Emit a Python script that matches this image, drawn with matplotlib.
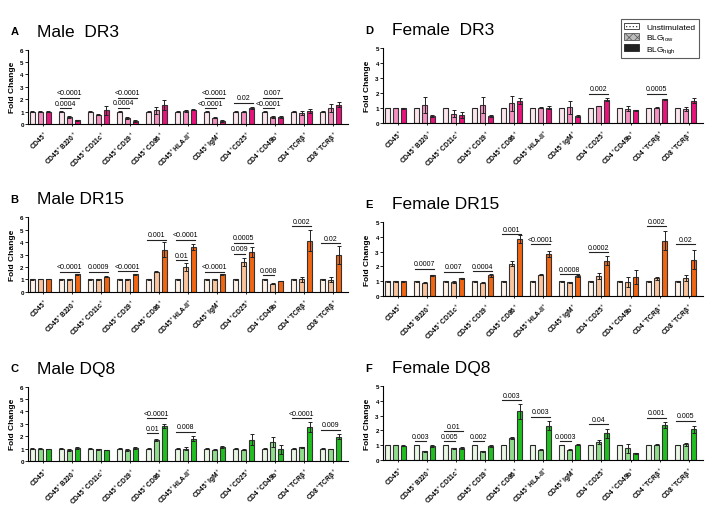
import numpy as np
import matplotlib
matplotlib.use('Agg')
import matplotlib.pyplot as plt
from matplotlib.patches import Patch

plt.rcParams['font.family'] = ['Liberation Sans', 'DejaVu Sans']
plt.rcParams['hatch.linewidth'] = 0.5
plt.rcParams['mathtext.fontset'] = 'custom'
plt.rcParams['mathtext.rm'] = 'Liberation Sans'
plt.rcParams['mathtext.it'] = 'Liberation Sans'
plt.rcParams['mathtext.bf'] = 'Liberation Sans:bold'

CATEGORIES = ['CD45$^+$', 'CD45$^+$B220$^+$', 'CD45$^+$CD11c$^+$', 'CD45$^+$CD19$^+$',
              'CD45$^+$CD86$^+$', 'CD45$^+$HLA-II$^+$', 'CD45$^+$IgM$^+$', 'CD4$^+$CD25$^+$',
              'CD4$^+$CD49b$^+$', 'CD4$^+$TCR\u03b2$^+$', 'CD8$^+$TCR\u03b2$^+$']

UNSTIM = [1.0] * 11

# Male DR3
A_low = [1.0, 0.55, 0.75, 0.5, 1.1, 1.05, 0.5, 1.0, 0.6, 0.9, 1.3]
A_low_err = [0.03, 0.08, 0.05, 0.1, 0.3, 0.1, 0.05, 0.05, 0.08, 0.15, 0.3]
A_high = [1.0, 0.3, 1.1, 0.25, 1.55, 1.15, 0.25, 1.25, 0.55, 1.05, 1.55]
A_high_err = [0.03, 0.05, 0.35, 0.05, 0.4, 0.05, 0.05, 0.08, 0.1, 0.18, 0.2]
A_sig = [(1, 1, 1.26, '0.0004'), (1, 2, 2.12, '<0.0001'), (3, 1, 1.3, '0.0004'),
         (3, 2, 2.12, '<0.0001'), (6, 1, 1.26, '<0.0001'), (6, 2, 2.12, '<0.0001'),
         (7, 2, 1.7, '0.02'), (8, 1, 1.26, '<0.0001'), (8, 2, 2.12, '0.007')]

# Female DR3
D_low = [1.0, 1.2, 0.62, 1.2, 1.3, 1.02, 1.05, 1.13, 0.95, 1.03, 0.92]
D_low_err = [0.02, 0.55, 0.25, 0.55, 0.5, 0.05, 0.45, 0.03, 0.15, 0.05, 0.12]
D_high = [0.97, 0.48, 0.52, 0.48, 1.45, 1.02, 0.45, 1.55, 0.85, 1.58, 1.5]
D_high_err = [0.02, 0.08, 0.2, 0.08, 0.2, 0.08, 0.05, 0.1, 0.03, 0.05, 0.2]
D_sig = [(7, 2, 1.95, '0.002'), (9, 2, 1.95, '0.0005')]

# Male DR15
B_low = [1.02, 1.0, 1.0, 1.0, 1.62, 2.0, 1.0, 2.4, 0.65, 1.0, 0.97]
B_low_err = [0.02, 0.03, 0.03, 0.03, 0.05, 0.3, 0.03, 0.3, 0.05, 0.2, 0.2]
B_high = [1.02, 1.42, 1.22, 1.42, 3.4, 3.6, 1.42, 3.2, 0.87, 4.1, 2.95]
B_high_err = [0.02, 0.05, 0.03, 0.05, 0.6, 0.25, 0.05, 0.4, 0.03, 0.85, 0.7]
B_sig = [(1, 2, 1.63, '<0.0001'), (2, 2, 1.63, '0.0009'), (3, 2, 1.65, '<0.0001'),
         (4, 2, 4.2, '0.001'), (5, 1, 2.56, '0.01'), (5, 2, 4.2, '<0.0001'),
         (6, 2, 1.63, '<0.0001'), (7, 1, 3.07, '0.009'), (7, 2, 3.95, '0.0005'),
         (8, 1, 1.33, '0.008'), (9, 2, 5.28, '0.002'), (10, 2, 3.9, '0.02')]

# Female DR15
E_low = [1.0, 0.9, 0.95, 0.9, 2.2, 1.45, 0.92, 1.37, 0.97, 1.2, 1.2]
E_low_err = [0.02, 0.05, 0.05, 0.05, 0.15, 0.05, 0.05, 0.2, 0.35, 0.12, 0.2]
E_high = [1.0, 1.4, 1.2, 1.4, 3.87, 2.85, 1.35, 2.4, 1.28, 3.75, 2.47]
E_high_err = [0.02, 0.05, 0.03, 0.08, 0.25, 0.2, 0.05, 0.3, 0.5, 0.65, 0.65]
E_sig = [(1, 2, 1.85, '0.0007'), (2, 2, 1.64, '0.007'), (3, 2, 1.69, '0.0004'),
         (4, 2, 4.19, '0.001'), (5, 2, 3.49, '<0.0001'), (6, 2, 1.49, '0.0008'),
         (7, 2, 2.95, '0.0002'), (9, 2, 4.73, '0.002'), (10, 2, 3.49, '0.02')]

# Male DQ8
C_low = [1.0, 0.88, 0.95, 0.9, 1.7, 1.0, 0.92, 0.92, 1.5, 1.1, 0.97]
C_low_err = [0.02, 0.05, 0.03, 0.08, 0.1, 0.15, 0.05, 0.05, 0.4, 0.05, 0.03]
C_high = [0.97, 1.05, 0.9, 1.05, 2.82, 1.78, 1.15, 1.72, 0.95, 2.75, 1.95]
C_high_err = [0.02, 0.05, 0.02, 0.08, 0.2, 0.2, 0.08, 0.45, 0.35, 0.4, 0.2]
C_sig = [(4, 1, 2.23, '0.01'), (4, 2, 3.44, '<0.0001'), (5, 2, 2.34, '0.008'),
         (9, 2, 3.44, '<0.0001'), (10, 2, 2.5, '0.009')]

# Female DQ8
F_low = [1.0, 0.6, 0.8, 0.6, 1.5, 0.7, 0.7, 1.2, 0.8, 1.03, 1.05]
F_low_err = [0.02, 0.03, 0.03, 0.03, 0.05, 0.02, 0.02, 0.15, 0.3, 0.05, 0.1]
F_high = [0.97, 0.95, 0.82, 0.95, 3.3, 2.33, 1.02, 1.8, 0.45, 2.35, 2.07]
F_high_err = [0.02, 0.05, 0.05, 0.05, 0.5, 0.3, 0.03, 0.3, 0.03, 0.2, 0.25]
F_sig = [(1, 1, 1.26, '0.003'), (2, 1, 1.26, '0.005'), (2, 2, 1.95, '0.01'),
         (3, 1, 1.26, '0.002'), (4, 2, 4.06, '0.003'), (5, 2, 2.94, '0.003'),
         (6, 1, 1.26, '0.0003'), (7, 2, 2.42, '0.04'), (9, 2, 2.87, '0.001'),
         (10, 2, 2.65, '0.005')]

PINK = ['#fce6ee', '#f590c0', '#e8137c']
ORANGE = ['#fff2e8', '#fbc49c', '#f26511']
GREEN = ['#eaf7e4', '#90dc8a', '#1fbf1f']

fig = plt.figure(figsize=(7.08, 5.06), dpi=100)

panels = [
    ('A', 'Male  DR3', A_low, A_low_err, A_high, A_high_err, A_sig, PINK, 6, [0.0395, 0.753, 0.452, 0.147]),
    ('B', 'Male DR15', B_low, B_low_err, B_high, B_high_err, B_sig, ORANGE, 6, [0.0395, 0.421, 0.452, 0.148]),
    ('C', 'Male DQ8', C_low, C_low_err, C_high, C_high_err, C_sig, GREEN, 6, [0.0395, 0.087, 0.452, 0.147]),
    ('D', 'Female  DR3', D_low, D_low_err, D_high, D_high_err, D_sig, PINK, 5, [0.541, 0.755, 0.452, 0.148]),
    ('E', 'Female DR15', E_low, E_low_err, E_high, E_high_err, E_sig, ORANGE, 5, [0.541, 0.413, 0.452, 0.146]),
    ('F', 'Female DQ8', F_low, F_low_err, F_high, F_high_err, F_sig, GREEN, 5, [0.541, 0.089, 0.452, 0.146]),
]

x = np.arange(len(CATEGORIES))
off = 0.275
w = 0.18

for letter, title, low, low_err, high, high_err, sig, cols, ymax, pos in panels:
    ax = fig.add_axes(pos)
    vals = [UNSTIM, low, high]
    errs = [[0.02] * 11, low_err, high_err]
    for k in range(3):
        ax.bar(x + (k - 1) * off, vals[k], w, yerr=errs[k], color=cols[k],
               edgecolor='#333333', linewidth=0.8,
               error_kw=dict(elinewidth=0.7, capsize=1.5, capthick=0.7, ecolor='#222222'))
    for g, t, yb, txt in sig:
        x0 = g - off - 0.05
        x1 = g + (t - 1) * off + 0.05
        ax.plot([x0, x1], [yb, yb], color='#222222', lw=0.8)
        ax.text((x0 + x1) / 2, yb + 0.12 * ymax / 6, txt, ha='center', va='bottom', fontsize=5)
    ax.set_xlim(-0.43, 10.6)
    ax.set_ylim(0, ymax)
    ax.set_yticks(range(ymax + 1))
    ax.set_xticks(x + 0.1)
    ax.set_xticklabels(CATEGORIES, rotation=45, ha='right', rotation_mode='anchor',
                       fontsize=4.8, fontweight='bold')
    ax.tick_params(axis='y', labelsize=4.5, length=2, width=0.6, pad=1)
    ax.tick_params(axis='x', length=1.2, width=0.6, pad=2)
    for lab in ax.get_yticklabels():
        lab.set_fontweight('bold')
    ax.spines['top'].set_visible(False)
    ax.spines['right'].set_visible(False)
    ax.spines['left'].set_linewidth(0.8)
    ax.spines['bottom'].set_linewidth(0.8)
    ax.set_ylabel('Fold Change', fontsize=6, fontweight='bold', labelpad=3)
    top = pos[1] + pos[3]
    fig.text(pos[0] - 0.025, top + 0.036, letter, fontsize=8, fontweight='bold', va='center')
    fig.text(pos[0] + 0.013, top + 0.036, title, fontsize=12.5, va='center')

handles = [Patch(facecolor='white', edgecolor='#333333', hatch='.....', linewidth=0.6),
           Patch(facecolor='#bbbbbb', edgecolor='#555555', hatch='xxxx', linewidth=0.6),
           Patch(facecolor='#222222', edgecolor='#222222', linewidth=0.6)]
leg = fig.legend(handles, ['Unstimulated', 'BLG$_{low}$', 'BLG$_{high}$'],
                 loc='upper right', bbox_to_anchor=(0.993, 0.968), fontsize=6,
                 frameon=True, fancybox=False, edgecolor='#333333',
                 handlelength=1.8, handleheight=0.8, borderpad=0.45, labelspacing=0.15)
leg.get_frame().set_linewidth(0.8)

fig.savefig('out.png', dpi=100)
